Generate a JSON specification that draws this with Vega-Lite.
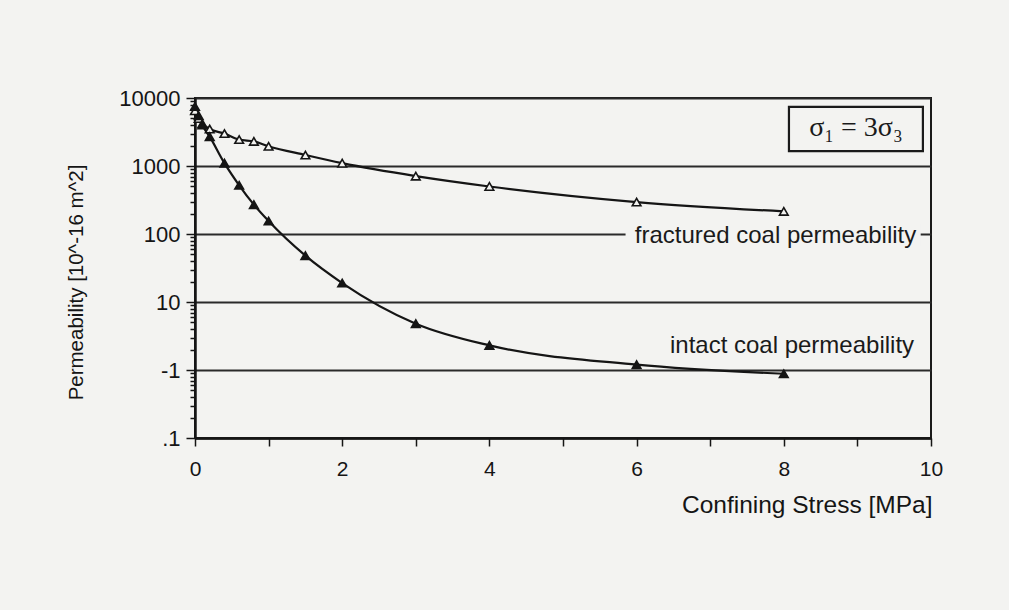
{
  "$schema": "https://vega.github.io/schema/vega-lite/v6.json",
  "width": 736,
  "height": 340,
  "autosize": {"type": "none"},
  "padding": {"left": 195, "top": 98, "right": 78, "bottom": 172},
  "background": "#f3f3f1",
  "config": {
    "view": {"stroke": "#1a1a1a", "strokeWidth": 2},
    "font": "Liberation Sans",
    "axis": {"domainColor": "#151515", "domainWidth": 2.5, "tickColor": "#151515", "tickWidth": 1.5, "labelColor": "#151515", "titleColor": "#151515", "titleFontWeight": "normal", "labelFont": "Liberation Sans", "titleFont": "Liberation Sans"}
  },
  "datasets": {
    "perm": [
      {"stress": 0, "perm": 6500, "series": "fractured"},
      {"stress": 0.05, "perm": 5000, "series": "fractured"},
      {"stress": 0.1, "perm": 4200, "series": "fractured"},
      {"stress": 0.2, "perm": 3500, "series": "fractured"},
      {"stress": 0.4, "perm": 3000, "series": "fractured"},
      {"stress": 0.6, "perm": 2450, "series": "fractured"},
      {"stress": 0.8, "perm": 2300, "series": "fractured"},
      {"stress": 1.0, "perm": 1950, "series": "fractured"},
      {"stress": 1.5, "perm": 1450, "series": "fractured"},
      {"stress": 2, "perm": 1100, "series": "fractured"},
      {"stress": 3, "perm": 710, "series": "fractured"},
      {"stress": 4, "perm": 500, "series": "fractured"},
      {"stress": 6, "perm": 295, "series": "fractured"},
      {"stress": 8, "perm": 215, "series": "fractured"},
      {"stress": 0, "perm": 7500, "series": "intact"},
      {"stress": 0.05, "perm": 5500, "series": "intact"},
      {"stress": 0.1, "perm": 4000, "series": "intact"},
      {"stress": 0.2, "perm": 2700, "series": "intact"},
      {"stress": 0.4, "perm": 1100, "series": "intact"},
      {"stress": 0.6, "perm": 520, "series": "intact"},
      {"stress": 0.8, "perm": 270, "series": "intact"},
      {"stress": 1.0, "perm": 155, "series": "intact"},
      {"stress": 1.5, "perm": 48, "series": "intact"},
      {"stress": 2, "perm": 19, "series": "intact"},
      {"stress": 3, "perm": 4.8, "series": "intact"},
      {"stress": 4, "perm": 2.3, "series": "intact"},
      {"stress": 6, "perm": 1.2, "series": "intact"},
      {"stress": 8, "perm": 0.88, "series": "intact"}
    ]
  },
  "layer": [
    {
      "data": {"name": "perm"},
      "mark": {"type": "line", "interpolate": "monotone", "color": "#151515", "strokeWidth": 2.2},
      "encoding": {
        "x": {
          "field": "stress", "type": "quantitative",
          "scale": {"domain": [0, 10], "nice": false},
          "axis": {
            "title": "Confining Stress [MPa]",
            "values": [0, 1, 2, 3, 4, 5, 6, 7, 8, 9, 10],
            "labelExpr": "datum.value % 2 == 0 ? format(datum.value, 'd') : ''",
            "grid": false,
            "tickSize": 8,
            "labelFontSize": 21,
            "labelPadding": 12,
            "labelFlush": false,
            "labelBound": false,
            "titleFontSize": 24.5,
            "titleAnchor": "end",
            "titleAlign": "right",
            "titleX": 737,
            "titleY": 67,
            "titleBaseline": "middle"
          }
        },
        "y": {
          "field": "perm", "type": "quantitative",
          "scale": {"type": "log", "domain": [0.1, 10000], "nice": false},
          "axis": {
            "title": "Permeability [10^-16 m^2]",
            "values": [0.1, 0.2, 0.3, 0.4, 0.5, 0.6, 0.7, 0.8, 0.9, 1, 2, 3, 4, 5, 6, 7, 8, 9, 10, 20, 30, 40, 50, 60, 70, 80, 90, 100, 200, 300, 400, 500, 600, 700, 800, 900, 1000, 2000, 3000, 4000, 5000, 6000, 7000, 8000, 9000, 10000],
            "labelExpr": "datum.value == 10000 ? '10000' : datum.value == 1000 ? '1000' : datum.value == 100 ? '100' : datum.value == 10 ? '10' : datum.value == 1 ? '-1' : datum.value == 0.1 ? '.1' : ''",
            "grid": true,
            "gridColor": {"condition": {"test": "indexof([0.1, 1, 10, 100, 1000, 10000], datum.value) >= 0", "value": "#2a2a2a"}, "value": "rgba(0,0,0,0)"},
            "gridWidth": 2,
            "tickSize": {"condition": {"test": "indexof([0.1, 1, 10, 100, 1000, 10000], datum.value) >= 0", "value": 9}, "value": 5},
            "labelFontSize": 22,
            "labelPadding": 6,
            "labelOverlap": false,
            "labelBound": false,
            "labelFlush": false,
            "titleFontSize": 20.5,
            "titleX": -119,
            "titleY": 184,
            "titleAlign": "center",
            "titleBaseline": "middle"
          }
        },
        "detail": {"field": "series", "type": "nominal"}
      }
    },
    {
      "data": {"name": "perm"},
      "mark": {"type": "point", "shape": "triangle-up", "size": 75, "filled": true, "stroke": "#151515", "strokeWidth": 1.6, "opacity": 1},
      "encoding": {
        "x": {"field": "stress", "type": "quantitative"},
        "y": {"field": "perm", "type": "quantitative"},
        "fill": {"field": "series", "type": "nominal", "scale": {"domain": ["fractured", "intact"], "range": ["#f3f3f1", "#151515"]}, "legend": null}
      }
    },
    {
      "data": {"values": [{}]},
      "mark": {"type": "rect", "color": "#f3f3f1"},
      "encoding": {
        "x": {"datum": 5.85, "type": "quantitative"},
        "x2": {"datum": 9.86},
        "y": {"datum": 65, "type": "quantitative"},
        "y2": {"datum": 140}
      }
    },
    {
      "data": {"values": [{}]},
      "mark": {"type": "text", "text": "fractured coal permeability", "align": "right", "baseline": "middle", "fontSize": 24, "color": "#1a1a1a", "font": "Liberation Sans"},
      "encoding": {
        "x": {"datum": 9.8, "type": "quantitative"},
        "y": {"datum": 93, "type": "quantitative"}
      }
    },
    {
      "data": {"values": [{}]},
      "mark": {"type": "text", "text": "intact coal permeability", "align": "right", "baseline": "middle", "fontSize": 24, "color": "#1a1a1a", "font": "Liberation Sans"},
      "encoding": {
        "x": {"datum": 9.77, "type": "quantitative"},
        "y": {"datum": 2.25, "type": "quantitative"}
      }
    },
    {
      "data": {"values": [{}]},
      "mark": {"type": "rect", "fill": "#f3f3f1", "stroke": "#1a1a1a", "strokeWidth": 2.2},
      "encoding": {
        "x": {"datum": 8.07, "type": "quantitative"},
        "x2": {"datum": 9.89},
        "y": {"datum": 7400, "type": "quantitative"},
        "y2": {"datum": 1660}
      }
    },
    {
      "data": {"values": [{}]},
      "mark": {"type": "text", "text": "σ₁ = 3σ₃", "align": "center", "baseline": "middle", "fontSize": 28, "color": "#1a1a1a", "font": "Liberation Serif, DejaVu Serif"},
      "encoding": {
        "x": {"datum": 8.98, "type": "quantitative"},
        "y": {"datum": 3600, "type": "quantitative"}
      }
    }
  ]
}
